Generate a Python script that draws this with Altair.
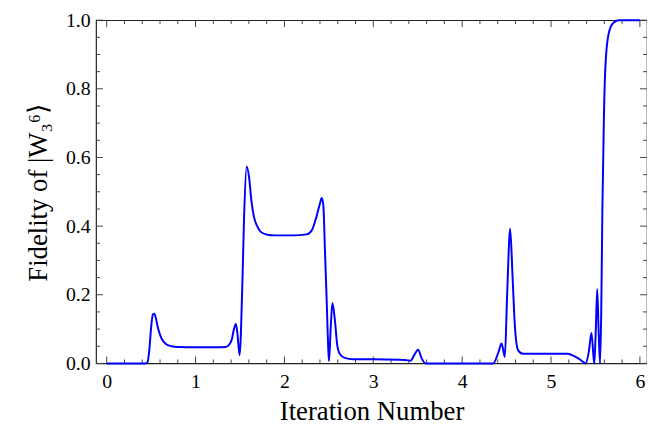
import altair as alt
import pandas as pd

# Curve
xs = [0.00, 0.40, 0.44, 0.46, 0.48, 0.50, 0.52, 0.535, 0.55, 0.58, 0.62, 0.67, 0.73, 0.80,
      1.00, 1.20, 1.34, 1.38, 1.41, 1.43, 1.453, 1.47, 1.495, 1.527, 1.546, 1.575, 1.602,
      1.628, 1.657, 1.695, 1.73, 1.806, 1.90, 2.10, 2.25, 2.31, 2.36, 2.40, 2.42, 2.438,
      2.456, 2.475, 2.494, 2.502, 2.52, 2.54, 2.57, 2.594, 2.62, 2.68, 2.77, 3.00, 3.30,
      3.37, 3.42, 3.46, 3.504, 3.545, 3.59, 4.00, 4.35, 4.41, 4.444, 4.48, 4.507, 4.54,
      4.567, 4.593, 4.63, 4.686, 4.80, 5.00, 5.19, 5.26, 5.32, 5.37, 5.39, 5.426, 5.455,
      5.478, 5.487, 5.504, 5.52, 5.535, 5.552, 5.565, 5.578, 5.596, 5.615, 5.652, 5.708,
      5.764, 6.00]
ys = [0.0, 0.0, 0.0, 0.004, 0.04, 0.105, 0.143, 0.145, 0.135, 0.10, 0.071, 0.056, 0.050, 0.048,
      0.047, 0.047, 0.048, 0.055, 0.072, 0.098, 0.115, 0.09, 0.024, 0.236, 0.427, 0.574, 0.543,
      0.475, 0.427, 0.399, 0.384, 0.375, 0.373, 0.373, 0.376, 0.389, 0.427, 0.466, 0.482, 0.46,
      0.33, 0.187, 0.04, 0.007, 0.10, 0.176, 0.12, 0.053, 0.029, 0.016, 0.012, 0.012, 0.011,
      0.0095, 0.008, 0.024, 0.040, 0.014, 0.0, 0.0, 0.0, 0.034, 0.058, 0.019, 0.207, 0.392,
      0.254, 0.11, 0.038, 0.028, 0.028, 0.028, 0.028, 0.021, 0.0125, 0.003, 0.0, 0.035, 0.089,
      0.02, 0.0, 0.10, 0.216, 0.10, 0.0, 0.15, 0.45, 0.73, 0.88, 0.965, 0.994,
      1.0, 1.0]

x_major = [0, 1, 2, 3, 4, 5, 6]
x_minor = [0.2, 0.4, 0.6, 0.8, 1.2, 1.4, 1.6, 1.8, 2.2, 2.4, 2.6, 2.8, 3.2, 3.4, 3.6, 3.8,
           4.2, 4.4, 4.6, 4.8, 5.2, 5.4, 5.6, 5.8]
y_major = [0.0, 0.2, 0.4, 0.6, 0.8, 1.0]
y_minor = [0.05, 0.1, 0.15, 0.25, 0.3, 0.35, 0.45, 0.5, 0.55, 0.65, 0.7, 0.75, 0.85, 0.9, 0.95]

W, H = 557, 347
FONT = "Liberation Serif"
TICK = "#444444"

df = pd.DataFrame({"x": xs, "y": ys})
xscale = alt.Scale(domain=[-0.12, 6.08], nice=False, zero=False, padding=0)
yscale = alt.Scale(domain=[0, 1], nice=False, zero=False, padding=0)

xaxis = alt.Axis(values=x_major, format="d", title="Iteration Number",
                 tickSize=0, domain=False, grid=False, labelPadding=8, titlePadding=8,
                 labelFont=FONT, titleFont=FONT, labelFontSize=20, titleFontSize=27,
                 labelColor="black", titleColor="black", titleFontWeight="normal")
yaxis = alt.Axis(values=y_major, format=".1f", title="Fidelity of |W₃⁶⟩",
                 tickSize=0, domain=False, grid=False, labelPadding=6, titlePadding=13,
                 labelFont=FONT, titleFont=FONT, labelFontSize=20, titleFontSize=27,
                 labelColor="black", titleColor="black", titleFontWeight="normal")

line = alt.Chart(df).mark_line(color="#0000ff", strokeWidth=2, interpolate="monotone").encode(
    x=alt.X("x:Q", scale=xscale, axis=xaxis),
    y=alt.Y("y:Q", scale=yscale, axis=yaxis),
)

xmaj = pd.DataFrame({"v": x_major})
xmin = pd.DataFrame({"v": x_minor})
ymaj = pd.DataFrame({"v": y_major})
ymin = pd.DataFrame({"v": y_minor})

def xticks(d, ln):
    b = alt.Chart(d).mark_rule(color=TICK, strokeWidth=1).encode(
        x=alt.X("v:Q", scale=xscale, axis=xaxis), y=alt.value(H), y2=alt.value(H - ln))
    t = alt.Chart(d).mark_rule(color=TICK, strokeWidth=1).encode(
        x=alt.X("v:Q", scale=xscale, axis=xaxis), y=alt.value(0), y2=alt.value(ln))
    return [b, t]

def yticks(d, ln):
    l = alt.Chart(d).mark_rule(color=TICK, strokeWidth=1).encode(
        y=alt.Y("v:Q", scale=yscale, axis=yaxis), x=alt.value(0), x2=alt.value(ln))
    r = alt.Chart(d).mark_rule(color=TICK, strokeWidth=1).encode(
        y=alt.Y("v:Q", scale=yscale, axis=yaxis), x=alt.value(W), x2=alt.value(W - ln))
    return [l, r]

layers = xticks(xmaj, 7) + xticks(xmin, 4) + yticks(ymaj, 7) + yticks(ymin, 4) + [line]

chart = alt.layer(*layers).properties(
    width=W, height=H,
    padding={"left": 89, "top": 10, "right": 0, "bottom": 64},
    autosize=alt.AutoSizeParams(type="none"),
).configure(font=FONT).configure_axis(
    labelFont=FONT, titleFont=FONT
).configure_view(stroke="#222222", strokeWidth=1.2)

chart.save("out.html", embed_options={"renderer": "svg", "actions": False})
